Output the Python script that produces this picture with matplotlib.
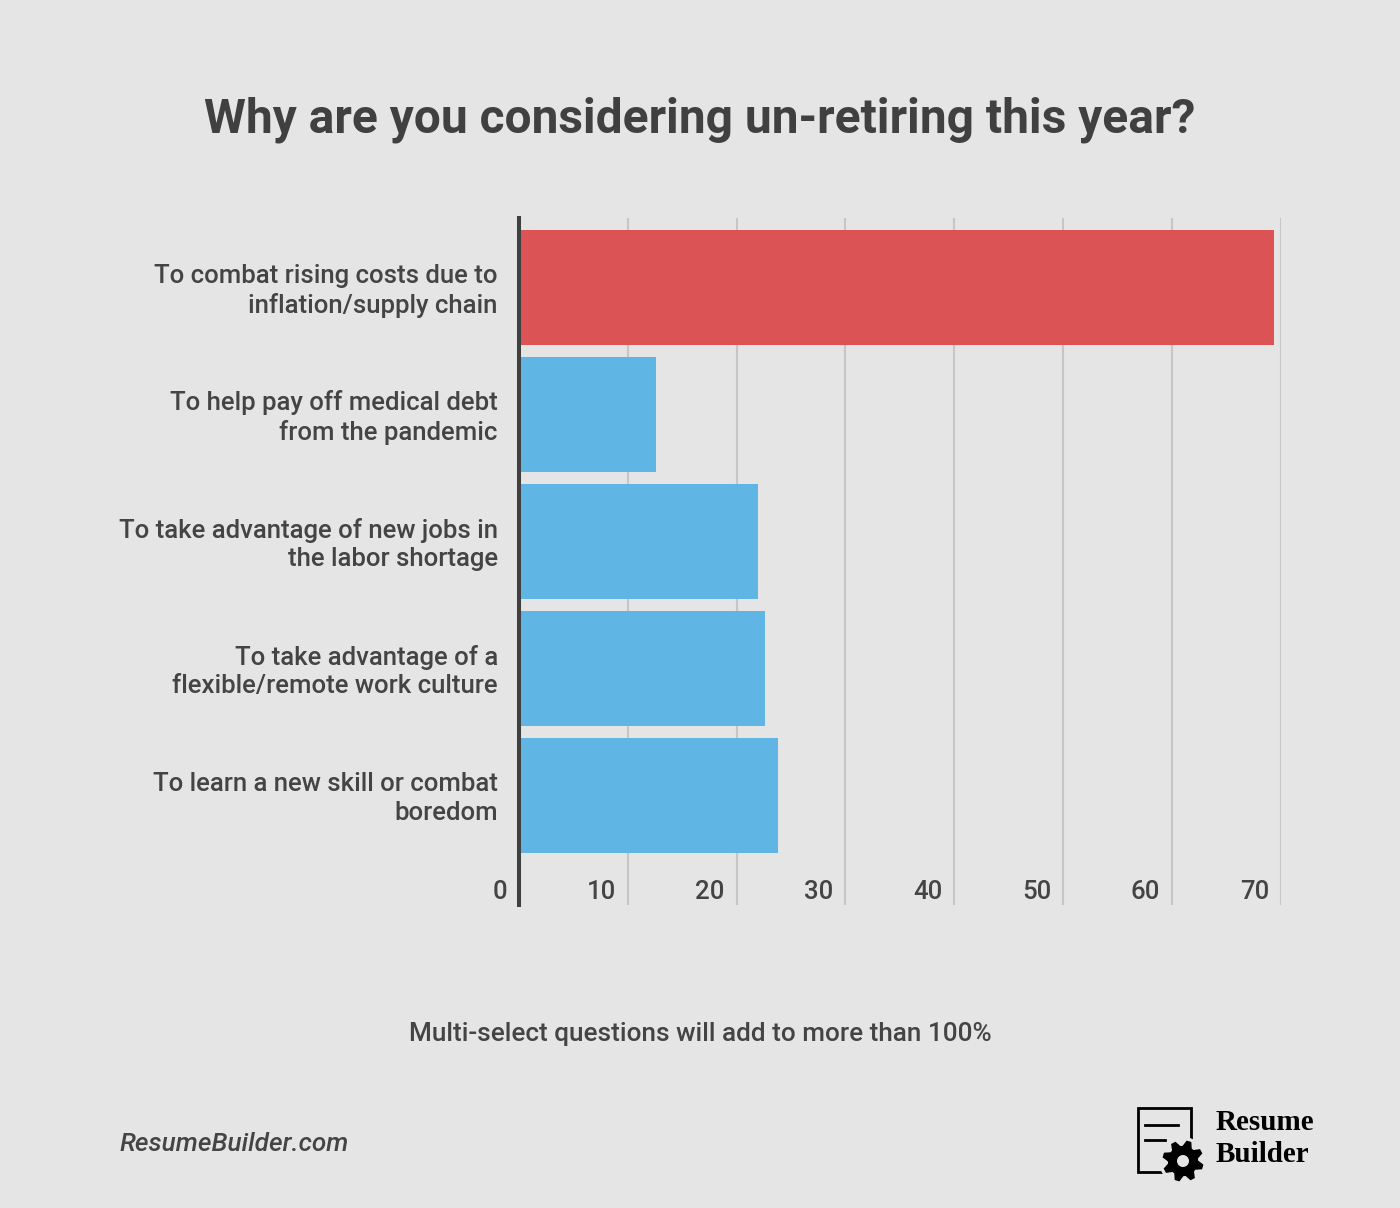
import matplotlib
matplotlib.use("Agg")
import numpy as np
import matplotlib.pyplot as plt
from matplotlib.patches import Rectangle, Circle, Polygon
from matplotlib.transforms import blended_transform_factory, ScaledTranslation

# ---- data ----
categories = [
    "To combat rising costs due to\ninflation/supply chain",
    "To help pay off medical debt\nfrom the pandemic",
    "To take advantage of new jobs in\nthe labor shortage",
    "To take advantage of a\nflexible/remote work culture",
    "To learn a new skill or combat\nboredom",
]
values = [69.4, 12.6, 22.0, 22.6, 23.8]
bar_colors = ["#dc5356", "#5fb6e4", "#5fb6e4", "#5fb6e4", "#5fb6e4"]
x_ticks = [0, 10, 20, 30, 40, 50, 60, 70]
title = "Why are you considering un-retiring this year?"
footnote = "Multi-select questions will add to more than 100%"
source = "ResumeBuilder.com"

BG = "#e5e5e5"
TXT = "#444444"

plt.rcParams["font.family"] = ["Roboto", "DejaVu Sans"]

fig = plt.figure(figsize=(14, 12.08), dpi=100, facecolor=BG)
ax = fig.add_axes([0.3705, 0.2508, 0.9150 - 0.3705, 0.8195 - 0.2508])
ax.set_facecolor(BG)

ypos = list(range(len(categories)))
ax.barh(ypos, values, height=0.9, color=bar_colors, zorder=3)
ax.set_xlim(0, 70)
ax.set_ylim(4.862, -0.547)

ax.set_yticks(ypos)
ax.set_yticklabels(categories, fontsize=18.5, color=TXT, ha="right",
                   linespacing=1.25, fontweight="medium")
ax.tick_params(axis="y", length=0, pad=15)
shift = ScaledTranslation(0, 2 / 100, fig.dpi_scale_trans)
for lab in ax.get_yticklabels():
    lab.set_transform(lab.get_transform() + shift)

ax.set_xticks(x_ticks)
ax.set_xticklabels([])
ax.tick_params(axis="x", length=0)
ax.grid(axis="x", color="#c6c6c6", linewidth=1.5, zorder=0)
ax.grid(axis="y", visible=False)

for s in ["top", "right", "bottom"]:
    ax.spines[s].set_visible(False)
ax.spines["left"].set_color("#404040")
ax.spines["left"].set_linewidth(2.9)
ax.spines["left"].set_zorder(4)

trans = blended_transform_factory(ax.transData, ax.transAxes)
for t in x_ticks:
    ax.annotate(str(t), xy=(t, 0), xycoords=trans, xytext=(-8.5, 4.5),
                textcoords="offset points", ha="right", va="baseline",
                fontsize=18.5, color=TXT, fontweight="medium")

fig.text(0.5, 1 - 120 / 1208, title, ha="center", va="center", fontsize=34.5,
         fontweight="bold", color="#404040")
fig.text(0.5, 1 - 1034 / 1208, footnote, ha="center", va="center",
         fontsize=18.8, color=TXT, fontweight="medium")
fig.text(120 / 1400, 1 - 1144 / 1208, source, ha="left", va="center",
         fontsize=18.8, style="italic", fontweight="medium", color=TXT)

# logo (pixel-unit axes, y upward)
L0, B0 = 1130, 1208 - 1185
lax = fig.add_axes([L0 / 1400, B0 / 1208, 200 / 1400, 85 / 1208])
lax.set_xlim(L0, L0 + 200)
lax.set_ylim(B0, B0 + 85)
lax.axis("off")
doc_top = 1208 - 1108
doc_bot = 1208 - 1172
lax.add_patch(Rectangle((1137.5, doc_bot), 53, doc_top - doc_bot, fill=False,
                        edgecolor="black", linewidth=2.0))
lax.plot([1145, 1178], [1208 - 1125, 1208 - 1125], color="black", linewidth=2.0)
lax.plot([1145, 1165], [1208 - 1140, 1208 - 1140], color="black", linewidth=2.0)
gcx, gcy = 1183, 1208 - 1161
lax.add_patch(Circle((gcx, gcy), 24, facecolor=BG, edgecolor="none", zorder=2))
n_teeth = 8
ang = np.linspace(0, 2 * np.pi, n_teeth * 4, endpoint=False) + np.pi / 8 / 2
pts = []
for i, a in enumerate(ang):
    r = 20 if (i % 4) in (1, 2) else 14.5
    pts.append((gcx + r * np.cos(a), gcy + r * np.sin(a)))
lax.add_patch(Polygon(pts, closed=True, facecolor="black", edgecolor="black",
                      linewidth=1, joinstyle="miter", zorder=3))
lax.add_patch(Circle((gcx, gcy), 6, facecolor=BG, edgecolor="none", zorder=4))
lax.text(1216, 1208 - 1122, "Resume", fontsize=21, fontweight="bold",
         family="Liberation Serif", va="center", ha="left", color="black")
lax.text(1216, 1208 - 1155, "Builder", fontsize=21, fontweight="bold",
         family="Liberation Serif", va="center", ha="left", color="black")

fig.savefig("out.png", dpi=100, facecolor=BG)
